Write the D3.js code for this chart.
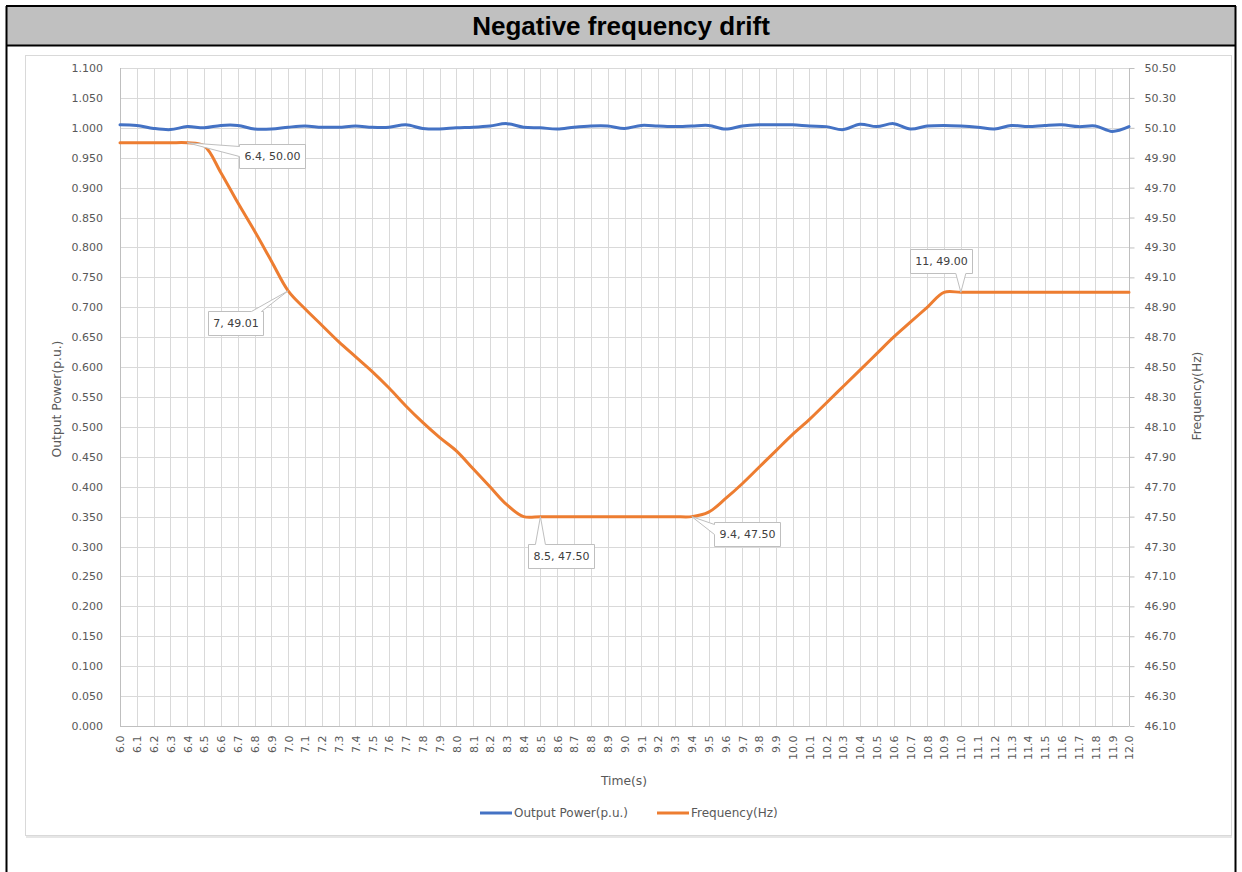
<!DOCTYPE html>
<meta charset="utf-8">
<script src="https://d3js.org/d3.v7.min.js"></script>
<style>
  body { margin: 0; background: #fff; }
  text { font-family: "DejaVu Sans", sans-serif; }
</style>
<body>
<div id="chart"></div>
<script>

// category labels on the time axis
var timeLabels = ["6.0","6.1","6.2","6.3","6.4","6.5","6.6","6.7","6.8","6.9",
  "7.0","7.1","7.2","7.3","7.4","7.5","7.6","7.7","7.8","7.9",
  "8.0","8.1","8.2","8.3","8.4","8.5","8.6","8.7","8.8","8.9",
  "9.0","9.1","9.2","9.3","9.4","9.5","9.6","9.7","9.8","9.9",
  "10.0","10.1","10.2","10.3","10.4","10.5","10.6","10.7","10.8","10.9",
  "11.0","11.1","11.2","11.3","11.4","11.5","11.6","11.7","11.8","11.9","12.0"]

var outputPower = [1.005,1.004,0.999,0.997,1.002,1.000,1.004,1.004,0.998,0.998,
  1.001,1.003,1.001,1.001,1.003,1.001,1.001,1.005,0.999,0.998,
  1.000,1.001,1.003,1.007,1.001,1.000,0.998,1.001,1.003,1.003,
  0.999,1.004,1.003,1.002,1.003,1.004,0.998,1.003,1.005,1.005,
  1.005,1.003,1.002,0.997,1.006,1.002,1.007,0.998,1.003,1.004,
  1.003,1.001,0.998,1.004,1.002,1.004,1.005,1.002,1.003,0.994,1.002]

var frequency = [50.00,50.00,50.00,50.00,50.00,49.98,49.80,49.60,49.41,49.21,
  49.01,48.89,48.78,48.67,48.57,48.47,48.36,48.24,48.13,48.03,
  47.94,47.82,47.70,47.58,47.50,47.50,47.50,47.50,47.50,47.50,
  47.50,47.50,47.50,47.50,47.50,47.53,47.62,47.72,47.83,47.94,
  48.05,48.15,48.26,48.37,48.48,48.59,48.70,48.80,48.90,49.00,
  49.00,49.00,49.00,49.00,49.00,49.00,49.00,49.00,49.00,49.00,49.00]

var powerTicks = [0,0.05,0.1,0.15,0.2,0.25,0.3,0.35,0.4,0.45,0.5,0.55,0.6,0.65,0.7,0.75,0.8,0.85,0.9,0.95,1.0,1.05,1.1]
var freqTicks = [46.1,46.3,46.5,46.7,46.9,47.1,47.3,47.5,47.7,47.9,48.1,48.3,48.5,48.7,48.9,49.1,49.3,49.5,49.7,49.9,50.1,50.3,50.5]

// points of the frequency series that carry a data callout
var calloutTimes = ["6.4","7.0","8.5","9.4","11.0"]

var seriesNames = ["Output Power(p.u.)", "Frequency(Hz)"]
var colors = ["#4472c4", "#ed7d31"]

var width = 1242
var height = 872

var svg = d3.select("#chart")
  .append("svg")
    .attr("width", width)
    .attr("height", height)

// outer table cell + title band
svg.append("rect")
  .attr("x", 6).attr("y", 6).attr("width", 1230).attr("height", 39)
  .attr("fill", "#c0c0c0")
svg.append("path")
  .attr("d", "M6,6H1236 M6,45.5H1236 M6.5,6V872 M1235.5,6V872")
  .attr("stroke", "#000").attr("stroke-width", 2).attr("fill", "none")
svg.append("text")
  .attr("x", 621).attr("y", 35)
  .attr("text-anchor", "middle")
  .style("font-family", "'Liberation Sans', Arial, sans-serif")
  .style("font-weight", "bold")
  .style("font-size", "26px")
  .attr("fill", "#000")
  .text("Negative frequency drift")

// chart area frame
svg.append("rect")
  .attr("x", 25.5).attr("y", 55.5).attr("width", 1206).attr("height", 780)
  .attr("fill", "#fff").attr("stroke", "#d9d9d9")
svg.append("line")
  .attr("x1", 26).attr("x2", 1232).attr("y1", 837).attr("y2", 837)
  .attr("stroke", "#e6e6e6").attr("stroke-width", 2)

var x = d3.scalePoint().domain(timeLabels).range([120, 1129])
var yL = d3.scaleLinear().domain([0, 1.1]).range([726, 68])
var yR = d3.scaleLinear().domain([46.1, 50.5]).range([726, 68])

var px = function(v) { return Math.round(v) + 0.5 }

// gridlines
var grid = svg.append("g").attr("stroke", "#d9d9d9").attr("stroke-width", 1)
grid.selectAll("line.h").data(powerTicks).enter().append("line")
  .attr("class", "h")
  .attr("x1", 120).attr("x2", 1129)
  .attr("y1", function(d){ return px(yL(d)) })
  .attr("y2", function(d){ return px(yL(d)) })
grid.selectAll("line.v").data(timeLabels).enter().append("line")
  .attr("class", "v")
  .attr("y1", 68).attr("y2", 726)
  .attr("x1", function(d){ return px(x(d)) })
  .attr("x2", function(d){ return px(x(d)) })

// axes
var leftAxis = svg.append("g")
  .attr("transform", "translate(120,0)")
  .call(d3.axisLeft(yL).tickValues(powerTicks).tickFormat(d3.format(".3f")).tickSize(0).tickPadding(17))
var rightAxis = svg.append("g")
  .attr("transform", "translate(1129.5,0)")
  .call(d3.axisRight(yR).tickValues(freqTicks).tickFormat(d3.format(".2f")).tickSize(5).tickPadding(10))
var bottomAxis = svg.append("g")
  .attr("transform", "translate(0,726.5)")
  .call(d3.axisBottom(x).tickSize(0).tickPadding(0))

;[leftAxis, rightAxis, bottomAxis].forEach(function(a) {
  a.select(".domain").attr("stroke", "#bfbfbf")
  a.selectAll(".tick line").attr("stroke", "#bfbfbf")
  a.selectAll("text")
    .style("font-family", "'DejaVu Sans', sans-serif")
    .style("font-size", "11px")
    .attr("fill", "#595959")
})
leftAxis.select(".domain").attr("d", "M0.5,68V726")
rightAxis.select(".domain").attr("d", "M0,68V726")
bottomAxis.select(".domain").attr("d", "M120,0H1129")
bottomAxis.selectAll(".tick text")
  .attr("transform", "rotate(-90)")
  .attr("text-anchor", "end")
  .attr("x", -9).attr("y", 0).attr("dy", "0.35em")

// axis titles
var titleStyle = function(t) {
  t.style("font-family", "'DejaVu Sans', sans-serif").style("font-size", "12.3px").attr("fill", "#595959")
}
svg.append("text").call(titleStyle)
  .attr("transform", "translate(61,399) rotate(-90)")
  .attr("text-anchor", "middle").text("Output Power(p.u.)")
svg.append("text").call(titleStyle)
  .attr("transform", "translate(1201,396) rotate(-90)")
  .attr("text-anchor", "middle").text("Frequency(Hz)")
svg.append("text").call(titleStyle)
  .attr("x", 624).attr("y", 785)
  .attr("text-anchor", "middle").text("Time(s)")

// series lines
var powerLine = d3.line()
  .x(function(d, i){ return x(timeLabels[i]) })
  .y(function(d){ return yL(d) })
  .curve(d3.curveCatmullRom.alpha(0.5))
var freqLine = d3.line()
  .x(function(d, i){ return x(timeLabels[i]) })
  .y(function(d){ return yR(d) })
  .curve(d3.curveCatmullRom.alpha(0.5))

svg.append("path").datum(outputPower)
  .attr("d", powerLine)
  .attr("fill", "none").attr("stroke", colors[0]).attr("stroke-width", 3)
  .attr("stroke-linejoin", "round").attr("stroke-linecap", "round")
svg.append("path").datum(frequency)
  .attr("d", freqLine)
  .attr("fill", "none").attr("stroke", colors[1]).attr("stroke-width", 3)
  .attr("stroke-linejoin", "round").attr("stroke-linecap", "round")

// data callouts: offset of box centre from the point
var calloutOffset = {"6.4": [85, 13], "7.0": [-53, 32], "8.5": [21, 39], "9.4": [55, 17], "11.0": [-20, -31]}

function calloutPath(bx, by, w, h, ptx, pty) {
  var half = 5
  var cx = bx + w / 2, cy = by + h / 2
  var ox = (ptx - cx) / (w / 2), oy = (pty - cy) / (h / 2)
  var p = []
  if (Math.abs(oy) >= Math.abs(ox)) {
    var sx = Math.max(bx + half + 2, Math.min(bx + w - half - 2, ptx))
    if (oy < 0) {
      p = [[bx, by], [sx - half, by], [ptx, pty], [sx + half, by], [bx + w, by], [bx + w, by + h], [bx, by + h]]
    } else {
      p = [[bx, by], [bx + w, by], [bx + w, by + h], [sx + half, by + h], [ptx, pty], [sx - half, by + h], [bx, by + h]]
    }
  } else {
    var sy = Math.max(by + half + 2, Math.min(by + h - half - 2, pty))
    if (ox < 0) {
      p = [[bx, by], [bx + w, by], [bx + w, by + h], [bx, by + h], [bx, sy + half], [ptx, pty], [bx, sy - half]]
    } else {
      p = [[bx, by], [bx + w, by], [bx + w, sy - half], [ptx, pty], [bx + w, sy + half], [bx + w, by + h], [bx, by + h]]
    }
  }
  return "M" + p.map(function(q){ return q.join(",") }).join("L") + "Z"
}

calloutTimes.forEach(function(t) {
  var i = timeLabels.indexOf(t)
  var ptx = x(t), pty = yR(frequency[i])
  var label = (+t) + ", " + frequency[i].toFixed(2)
  var g = svg.append("g")
  var txt = g.append("text")
    .style("font-family", "'DejaVu Sans', sans-serif")
    .style("font-size", "11px")
    .attr("fill", "#404040")
    .attr("text-anchor", "middle")
    .text(label)
  var tw = txt.node().getComputedTextLength()
  var w = Math.round(tw + 10), h = 24
  var cx = ptx + calloutOffset[t][0], cy = pty + calloutOffset[t][1]
  var bx = Math.round(cx - w / 2) + 0.5, by = Math.round(cy - h / 2) + 0.5
  g.insert("path", "text")
    .attr("d", calloutPath(bx, by, w, h, ptx, pty))
    .attr("fill", "#fff").attr("stroke", "#bfbfbf").attr("stroke-width", 1)
  txt.attr("x", bx + w / 2).attr("y", by + h / 2).attr("dy", "0.35em")
})

// legend
var legend = svg.append("g").attr("transform", "translate(480,813)")
var legendX = [0, 177]
seriesNames.forEach(function(name, i) {
  var lg = legend.append("g").attr("transform", "translate(" + legendX[i] + ",0)")
  lg.append("line").attr("x1", 0).attr("x2", 32).attr("y1", 0).attr("y2", 0)
    .attr("stroke", colors[i]).attr("stroke-width", 3)
  lg.append("text").attr("x", 34).attr("y", 0).attr("dy", "0.35em")
    .style("font-family", "'DejaVu Sans', sans-serif")
    .style("font-size", "12px")
    .attr("fill", "#595959")
    .text(name)
})

</script>
</body>
